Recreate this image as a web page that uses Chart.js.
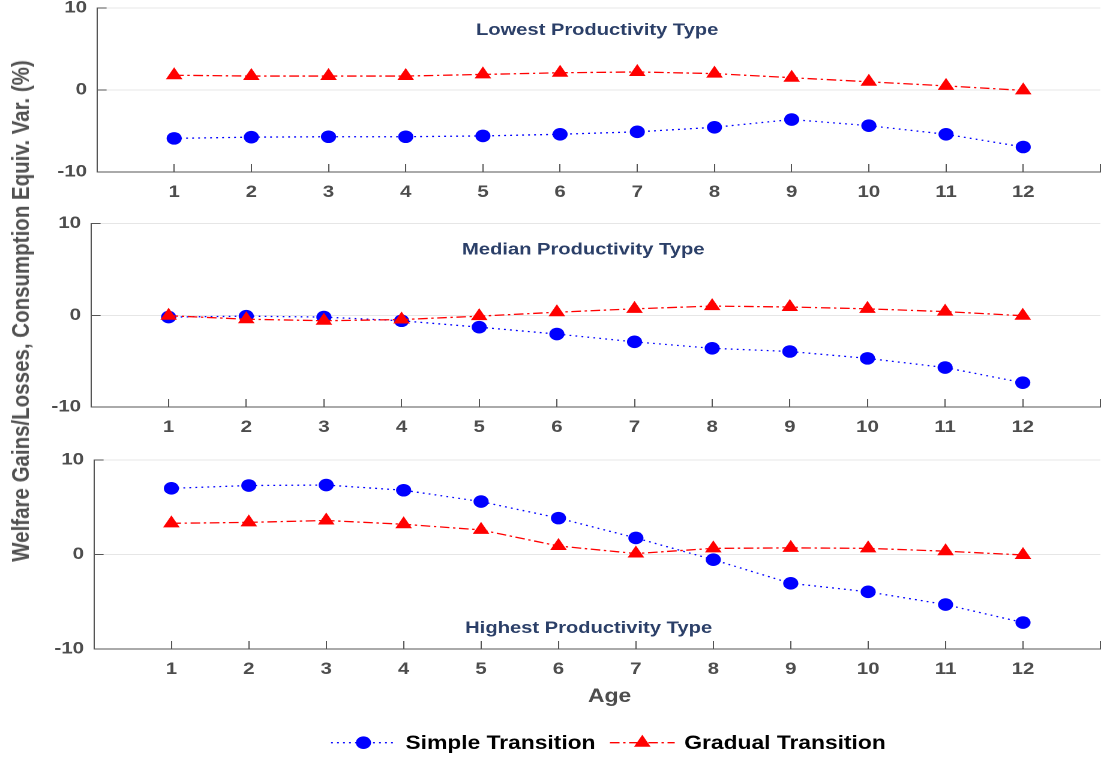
<!DOCTYPE html>
<html lang="en">
<head>
  <meta charset="utf-8">
  <title>welfare gains by age</title>
  <script src="https://cdn.jsdelivr.net/npm/chart.js"></script>
  <style type="text/css">
  body { margin: 0; background: #ffffff; overflow: hidden; }
  /* the whole figure is drawn narrow and stretched sideways, like the original export */
  #fig { position: absolute; left: 0; top: 0; width: 918px; height: 757px; transform: scaleX(1.2); transform-origin: 0 0; }
  #fig canvas { position: absolute; left: 0; }
  #ylab { position: absolute; left: 16.7px; top: 310.5px; transform: translate(-50%, -50%) rotate(-90deg);
          white-space: nowrap; font: bold 20.5px "Liberation Sans", Arial, sans-serif; color: #505050; }
  </style>
</head>
<body>
<div id="fig">
  <canvas id="p1" width="918" height="205" style="top:0px"></canvas>
  <canvas id="p2" width="918" height="235" style="top:205px"></canvas>
  <canvas id="p3" width="918" height="317" style="top:440px"></canvas>
  <div id="ylab">Welfare Gains/Losses, Consumption Equiv. Var. (%)</div>
</div>

<script>
  // ---- data ----
  const AGES = [1, 2, 3, 4, 5, 6, 7, 8, 9, 10, 11, 12];

  const SIMPLE_LOW   = [-5.9, -5.75, -5.7, -5.7, -5.6, -5.4, -5.1, -4.55, -3.6, -4.35, -5.4, -6.95];
  const GRADUAL_LOW  = [1.8, 1.7, 1.7, 1.7, 1.9, 2.1, 2.2, 2.0, 1.5, 1.0, 0.5, -0.05];

  const SIMPLE_MED   = [-0.2, -0.1, -0.2, -0.6, -1.3, -2.05, -2.9, -3.6, -3.95, -4.7, -5.7, -7.35];
  const GRADUAL_MED  = [-0.05, -0.43, -0.6, -0.47, -0.1, 0.33, 0.7, 1.0, 0.9, 0.7, 0.4, -0.05];

  const SIMPLE_HIGH  = [7.0, 7.3, 7.35, 6.8, 5.6, 3.85, 1.75, -0.55, -3.05, -3.95, -5.3, -7.2];
  const GRADUAL_HIGH = [3.3, 3.4, 3.6, 3.2, 2.6, 0.9, 0.1, 0.65, 0.7, 0.65, 0.35, -0.05];

  const SERIES_NAMES = ['Simple Transition', 'Gradual Transition'];
  const PANEL_TITLES = ['Lowest Productivity Type', 'Median Productivity Type', 'Highest Productivity Type'];
  const X_TICKS = [1, 2, 3, 4, 5, 6, 7, 8, 9, 10, 11, 12, 13]; // 13 = frame edge, no label
  const Y_TICKS = [-10, 0, 10];
  const X_LABEL = 'Age';

  Chart.defaults.font.family = '"Liberation Sans", Arial, sans-serif';

  const AXIS_GREY = '#555555';
  const TEXT_GREY = '#4d4d4d';
  const TITLE_BLUE = '#2b3f68';

  function pts(ys) { return AGES.map((a, i) => ({x: a, y: ys[i]})); }

  // tick padding would otherwise be added to the layout padding
  function noPad(axis) {
    axis.paddingTop = 0; axis.paddingBottom = 0;
    axis.paddingLeft = 0; axis.paddingRight = 0;
  }

  function drawMarker(ctx, style, r, x, y, color) {
    ctx.fillStyle = color;
    ctx.beginPath();
    if (style === 'triangle') {
      let rad = 0;
      ctx.moveTo(x + Math.sin(rad) * r, y - Math.cos(rad) * r);
      rad += 2 * Math.PI / 3;
      ctx.lineTo(x + Math.sin(rad) * r, y - Math.cos(rad) * r);
      rad += 2 * Math.PI / 3;
      ctx.lineTo(x + Math.sin(rad) * r, y - Math.cos(rad) * r);
      ctx.closePath();
    } else {
      ctx.arc(x, y, r, 0, 2 * Math.PI);
    }
    ctx.fill();
  }

  // panel title, plus x label and legend on the last panel
  const annot = {
    id: 'annot',
    afterDraw(chart, args, o) {
      const ctx = chart.ctx;
      const xs = chart.scales.x, ys = chart.scales.y;
      ctx.save();
      ctx.textAlign = 'center';
      ctx.textBaseline = 'middle';
      ctx.font = 'bold 16.8px "Liberation Sans", Arial, sans-serif';
      ctx.fillStyle = TITLE_BLUE;
      ctx.fillText(o.title, xs.getPixelForValue(o.tx), ys.getPixelForValue(o.ty));

      if (o.xlabel) {
        ctx.font = 'bold 19px "Liberation Sans", Arial, sans-serif';
        ctx.fillStyle = TEXT_GREY;
        ctx.fillText(o.xlabel, o.xlabelX, o.xlabelY);
      }

      if (o.legendY) {
        const lineLen = 54, gapText = 8, gapItem = 12;
        ctx.font = 'bold 19px "Liberation Sans", Arial, sans-serif';
        const dsets = chart.data.datasets;
        const widths = dsets.map(d => lineLen + gapText + ctx.measureText(d.label).width);
        let x = o.legendX - (widths.reduce((a, b) => a + b, 0) + gapItem * (dsets.length - 1)) / 2;
        const y = o.legendY;
        dsets.forEach((d, i) => {
          ctx.strokeStyle = d.borderColor;
          ctx.lineWidth = d.borderWidth;
          ctx.setLineDash(d.borderDash);
          ctx.beginPath();
          ctx.moveTo(x, y);
          ctx.lineTo(x + lineLen, y);
          ctx.stroke();
          ctx.setLineDash([]);
          drawMarker(ctx, d.pointStyle, d.pointRadius, x + lineLen / 2, y, d.pointBackgroundColor);
          ctx.fillStyle = '#000000';
          ctx.textAlign = 'left';
          ctx.fillText(d.label, x + lineLen + gapText, y + 1);
          x += widths[i] + gapItem;
        });
      }
      ctx.restore();
    }
  };

  function makePanel(id, simple, gradual, cfg) {
    return new Chart(document.getElementById(id), {
      type: 'scatter',
      plugins: [annot],
      data: {
        datasets: [{
          label: SERIES_NAMES[0],
          data: pts(simple),
          showLine: true,
          order: 1,
          borderColor: '#0000ff',
          borderWidth: 1.3,
          borderDash: [1.5, 3.5],
          pointStyle: 'circle',
          pointRadius: 6.3,
          pointHoverRadius: 6.3,
          pointBackgroundColor: '#0000ff',
          pointBorderColor: '#0000ff',
          pointBorderWidth: 0
        }, {
          label: SERIES_NAMES[1],
          data: pts(gradual),
          showLine: true,
          order: 0,
          borderColor: '#ff0000',
          borderWidth: 1.3,
          borderDash: [8, 3, 2, 3],
          pointStyle: 'triangle',
          pointRadius: 8,
          pointHoverRadius: 8,
          pointBackgroundColor: '#ff0000',
          pointBorderColor: '#ff0000',
          pointBorderWidth: 0
        }]
      },
      options: {
        responsive: false,
        animation: false,
        devicePixelRatio: 2,
        layout: {autoPadding: false, padding: {left: 0, right: 1, top: cfg.padTop, bottom: 0}},
        plugins: {
          legend: {display: false},
          tooltip: {enabled: false},
          annot: cfg.annot
        },
        scales: {
          x: {
            type: 'linear', min: 0, max: 13,
            afterBuildTicks: (axis) => { axis.ticks = X_TICKS.map(v => ({value: v})); },
            afterFit: (axis) => { axis.height = cfg.xHeight; noPad(axis); },
            grid: {drawOnChartArea: false, drawTicks: true, tickLength: -8, tickColor: AXIS_GREY},
            border: {display: true, color: AXIS_GREY, width: 1},
            ticks: {
              padding: 18.3,
              color: TEXT_GREY,
              font: {size: 17, weight: 'bold'},
              maxRotation: 0,
              callback: (v) => (v === 13 ? '' : String(v))
            }
          },
          y: {
            min: -10, max: 10,
            afterBuildTicks: (axis) => { axis.ticks = Y_TICKS.map(v => ({value: v})); },
            afterFit: (axis) => { axis.width = cfg.yWidth; noPad(axis); },
            grid: {
              color: (c) => (c.tick && c.tick.value === -10 ? 'rgba(0,0,0,0)' : '#e6e6e6'),
              tickColor: AXIS_GREY,
              drawTicks: true,
              tickLength: -8
            },
            border: {display: true, color: AXIS_GREY, width: 1},
            ticks: {
              padding: 16.3,
              color: TEXT_GREY,
              font: {size: 17, weight: 'bold'},
              callback: (v) => String(v)
            }
          }
        }
      }
    });
  }

  makePanel('p1', SIMPLE_LOW, GRADUAL_LOW, {
    yWidth: 80.8, xHeight: 33, padTop: 8,
    annot: {title: PANEL_TITLES[0], tx: 6.48, ty: 7.3}
  });
  makePanel('p2', SIMPLE_MED, GRADUAL_MED, {
    yWidth: 75.8, xHeight: 33, padTop: 18.5,
    annot: {title: PANEL_TITLES[1], tx: 6.34, ty: 7.1}
  });
  makePanel('p3', SIMPLE_HIGH, GRADUAL_HIGH, {
    yWidth: 78.3, xHeight: 108, padTop: 20,
    annot: {title: PANEL_TITLES[2], tx: 6.39, ty: -7.8,
            xlabel: X_LABEL, xlabelX: 508, xlabelY: 257,
            legendX: 507, legendY: 302.7}
  });
</script>
</body>
</html>
